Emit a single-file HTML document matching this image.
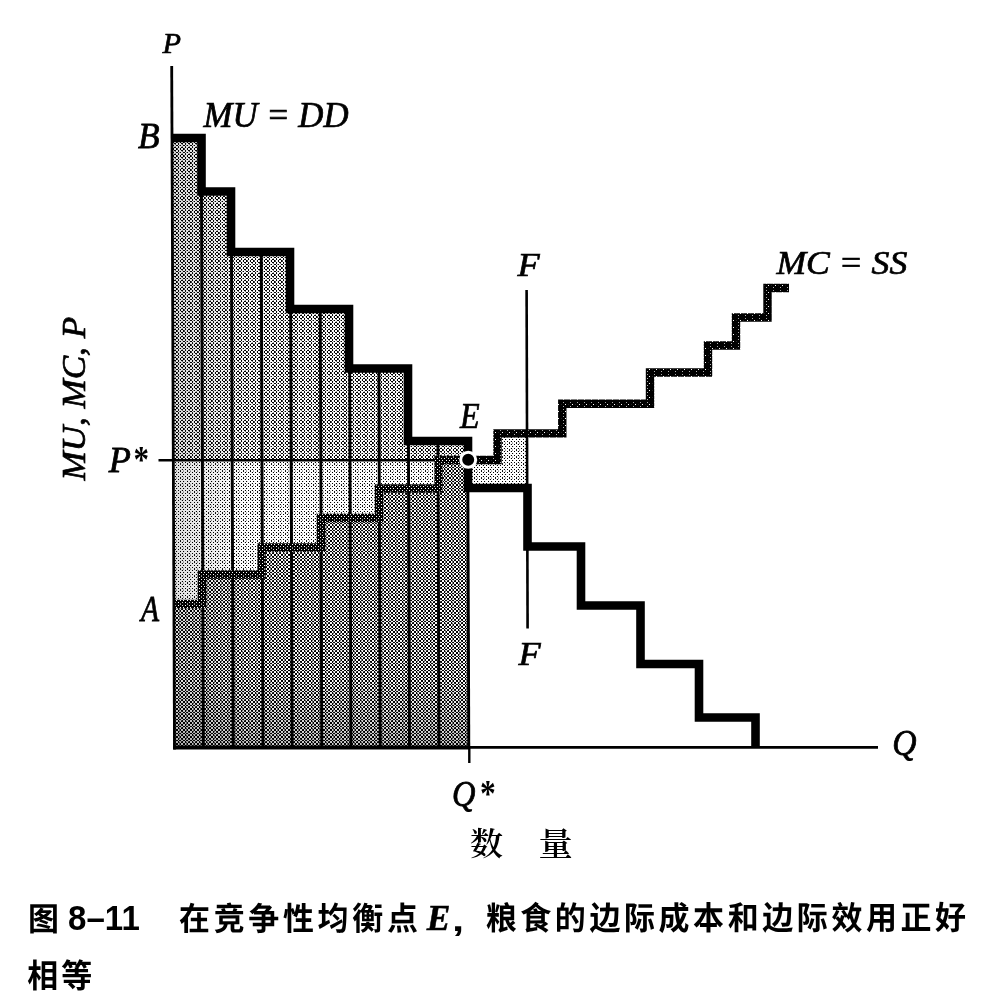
<!DOCTYPE html>
<html lang="zh"><head><meta charset="utf-8"><title>图 8-11</title>
<style>
html,body{margin:0;padding:0;background:#fff}
body{width:1000px;height:997px;position:relative;overflow:hidden}
svg{position:absolute;left:0;top:0;display:block}
text{fill:#000}
.i{font-family:"Liberation Serif","Noto Serif CJK SC",serif;font-style:italic;font-size:33px;stroke:#000;stroke-width:.7px}
.a{font-family:"Liberation Serif","Noto Serif CJK SC",serif;font-weight:700;font-size:33px}
.c{font-family:"Liberation Serif","Noto Serif CJK SC",serif;font-size:33px;font-weight:600}
.cap{font-family:"Liberation Sans","Noto Sans CJK SC",sans-serif;font-weight:700}
.num{font-family:"Liberation Sans","Noto Sans CJK SC",sans-serif;font-weight:700;font-size:30px}
.be{font-family:"Liberation Serif",serif;font-style:italic;font-weight:700;font-size:33px;stroke:#000;stroke-width:.5px}
</style></head><body>
<svg width="1000" height="997" viewBox="0 0 1000 997">
<defs><pattern id="pt" width="7" height="7" patternUnits="userSpaceOnUse"><rect width="7" height="7" fill="#ffffff"/><path d="M0 0h1v1h-1zM3 0h1v1h-1zM6 0h1v1h-1zM1 1h1v1h-1zM5 1h1v1h-1zM1 2h1v1h-1zM5 2h1v1h-1zM0 3h1v1h-1zM3 3h1v1h-1zM6 3h1v1h-1zM1 5h1v1h-1zM2 5h1v1h-1zM5 5h1v1h-1z" fill="#000000" shape-rendering="crispEdges"/><path d="M3 4h1v1h-1z" fill="#0f0f0f" shape-rendering="crispEdges"/><path d="M3 6h1v1h-1z" fill="#1e1e1e" shape-rendering="crispEdges"/><path d="M2 2h1v1h-1z" fill="#3c3c3c" shape-rendering="crispEdges"/><path d="M2 1h1v1h-1z" fill="#4b4b4b" shape-rendering="crispEdges"/><path d="M0 4h1v1h-1z" fill="#696969" shape-rendering="crispEdges"/><path d="M4 5h1v1h-1zM0 6h1v1h-1z" fill="#969696" shape-rendering="crispEdges"/><path d="M6 4h1v1h-1zM6 6h1v1h-1z" fill="#e1e1e1" shape-rendering="crispEdges"/><path d="M4 0h1v1h-1zM4 1h1v1h-1zM4 2h1v1h-1zM4 3h1v1h-1z" fill="#f0f0f0" shape-rendering="crispEdges"/></pattern><pattern id="pm" width="7" height="7" patternUnits="userSpaceOnUse"><rect width="7" height="7" fill="#ffffff"/><path d="M0 0h1v1h-1zM3 0h1v1h-1zM0 3h1v1h-1zM3 3h1v1h-1zM1 5h1v1h-1zM5 5h1v1h-1z" fill="#000000" shape-rendering="crispEdges"/><path d="M5 2h1v1h-1z" fill="#0f0f0f" shape-rendering="crispEdges"/><path d="M5 1h1v1h-1z" fill="#1e1e1e" shape-rendering="crispEdges"/><path d="M1 2h1v1h-1z" fill="#969696" shape-rendering="crispEdges"/><path d="M1 1h1v1h-1z" fill="#b4b4b4" shape-rendering="crispEdges"/><path d="M6 0h1v1h-1zM6 3h1v1h-1zM2 5h1v1h-1z" fill="#e1e1e1" shape-rendering="crispEdges"/></pattern><pattern id="pb" width="7" height="7" patternUnits="userSpaceOnUse"><rect width="7" height="7" fill="#000000"/><path d="M0 4h1v1h-1zM4 5h1v1h-1zM0 6h1v1h-1z" fill="#0f0f0f" shape-rendering="crispEdges"/><path d="M6 4h1v1h-1z" fill="#3c3c3c" shape-rendering="crispEdges"/><path d="M6 6h1v1h-1z" fill="#4b4b4b" shape-rendering="crispEdges"/><path d="M4 0h1v1h-1z" fill="#5a5a5a" shape-rendering="crispEdges"/><path d="M4 3h1v1h-1z" fill="#696969" shape-rendering="crispEdges"/><path d="M4 1h1v1h-1zM4 2h1v1h-1z" fill="#787878" shape-rendering="crispEdges"/><path d="M4 4h1v1h-1zM4 6h1v1h-1z" fill="#d2d2d2" shape-rendering="crispEdges"/><path d="M5 4h1v1h-1zM5 6h1v1h-1z" fill="#e1e1e1" shape-rendering="crispEdges"/><path d="M1 4h1v1h-1zM2 4h1v1h-1zM1 6h1v1h-1zM2 6h1v1h-1z" fill="#f0f0f0" shape-rendering="crispEdges"/><path d="M1 0h1v1h-1zM2 0h1v1h-1zM5 0h1v1h-1zM0 1h1v1h-1zM3 1h1v1h-1zM6 1h1v1h-1zM0 2h1v1h-1zM3 2h1v1h-1zM6 2h1v1h-1zM1 3h1v1h-1zM2 3h1v1h-1zM5 3h1v1h-1zM0 5h1v1h-1zM3 5h1v1h-1zM6 5h1v1h-1z" fill="#ffffff" shape-rendering="crispEdges"/></pattern><pattern id="pl" width="7" height="7" patternUnits="userSpaceOnUse"><rect width="7" height="7" fill="#000000"/><path d="M1 5h1v1h-1z" fill="#1e1e1e" shape-rendering="crispEdges"/><path d="M3 3h1v1h-1z" fill="#a5a5a5" shape-rendering="crispEdges"/><path d="M3 0h1v1h-1z" fill="#b4b4b4" shape-rendering="crispEdges"/><path d="M5 5h1v1h-1z" fill="#ffffff" shape-rendering="crispEdges"/></pattern><pattern id="pk" width="7" height="7" patternUnits="userSpaceOnUse"><rect width="7" height="7" fill="#000000"/><path d="M1 1h1v1h-1zM1 2h1v1h-1z" fill="#0f0f0f" shape-rendering="crispEdges"/><path d="M5 1h1v1h-1z" fill="#787878" shape-rendering="crispEdges"/><path d="M5 2h1v1h-1z" fill="#969696" shape-rendering="crispEdges"/><path d="M0 0h1v1h-1zM0 3h1v1h-1z" fill="#d2d2d2" shape-rendering="crispEdges"/><path d="M3 0h1v1h-1zM3 3h1v1h-1zM1 5h1v1h-1zM5 5h1v1h-1z" fill="#ffffff" shape-rendering="crispEdges"/></pattern><linearGradient id="gl" gradientUnits="userSpaceOnUse" x1="173" y1="0" x2="248" y2="0"><stop offset="0" stop-color="#000" stop-opacity=".13"/><stop offset="1" stop-color="#000" stop-opacity="0"/></linearGradient><linearGradient id="gb" gradientUnits="userSpaceOnUse" x1="0" y1="676" x2="0" y2="748"><stop offset="0" stop-color="#000" stop-opacity="0"/><stop offset="1" stop-color="#000" stop-opacity=".22"/></linearGradient></defs>
<polygon points="173,138 201.5,138 201.5,191.5 231,191.5 231,252 290,252 290,309 349,309 349,368.5 408,368.5 408,441 468,441 468,460.3 173,460.3" fill="url(#pt)"/>
<polygon points="173,460.3 438.5,460.3 438.5,488.5 379,488.5 379,518 321,518 321,547.5 261.5,547.5 261.5,574.5 202,574.5 202,604 173,604" fill="url(#pm)"/>
<polygon points="173,604 202,604 202,574.5 261.5,574.5 261.5,547.5 321,547.5 321,518 379,518 379,488.5 438.5,488.5 438.5,460 468,460 468,748 173,748" fill="url(#pb)"/>
<polygon points="468,460 497.5,460 497.5,433.4 527.5,433.4 527.5,488 468,488" fill="url(#pm)"/>
<clipPath id="cs"><polygon points="173,138 201.5,138 201.5,191.5 231,191.5 231,252 290,252 290,309 349,309 349,368.5 408,368.5 408,441 468,441 468,460.3 173,460.3"/><polygon points="173,460.3 438.5,460.3 438.5,488.5 379,488.5 379,518 321,518 321,547.5 261.5,547.5 261.5,574.5 202,574.5 202,604 173,604"/><polygon points="173,604 202,604 202,574.5 261.5,574.5 261.5,547.5 321,547.5 321,518 379,518 379,488.5 438.5,488.5 438.5,460 468,460 468,748 173,748"/></clipPath>
<clipPath id="cb"><polygon points="173,604 202,604 202,574.5 261.5,574.5 261.5,547.5 321,547.5 321,518 379,518 379,488.5 438.5,488.5 438.5,460 468,460 468,748 173,748"/></clipPath>
<rect x="173" y="134" width="75" height="614" fill="url(#gl)" clip-path="url(#cs)"/>
<rect x="173" y="676" width="295" height="72" fill="url(#gb)" clip-path="url(#cb)"/>
<line x1="201.27" y1="138" x2="203.40" y2="748" stroke="#000" stroke-width="2.9"/>
<line x1="231.47" y1="252" x2="233.20" y2="748" stroke="#000" stroke-width="2.9"/>
<line x1="261.27" y1="252" x2="263.00" y2="748" stroke="#000" stroke-width="2.9"/>
<line x1="290.67" y1="309" x2="292.20" y2="748" stroke="#000" stroke-width="2.9"/>
<line x1="320.27" y1="309" x2="321.80" y2="748" stroke="#000" stroke-width="2.9"/>
<line x1="349.47" y1="309" x2="351.00" y2="748" stroke="#000" stroke-width="2.9"/>
<line x1="378.88" y1="368.5" x2="380.20" y2="748" stroke="#000" stroke-width="2.9"/>
<line x1="408.18" y1="368.5" x2="409.50" y2="748" stroke="#000" stroke-width="2.9"/>
<line x1="437.93" y1="441" x2="439.00" y2="748" stroke="#000" stroke-width="2.9"/>
<line x1="467.73" y1="441" x2="468.80" y2="748" stroke="#000" stroke-width="2.9"/>
<line x1="158.5" y1="460.3" x2="468" y2="460.3" stroke="#000" stroke-width="2.6"/>
<polyline points="173,604 202,604 202,574.5 261.5,574.5 261.5,547.5 321,547.5 321,518 379,518 379,488.5 438.5,488.5 438.5,460 468,460" fill="none" stroke="url(#pk)" stroke-width="8.4"/>
<polyline points="468,460 497.5,460 497.5,433.4 562.3,433.4 562.3,403.7 650,403.7 650,372.5 708,372.5 708,345.5 736,345.5 736,317.5 767.5,317.5 767.5,288 789,288" fill="none" stroke="url(#pl)" stroke-width="8.4"/>
<line x1="171.7" y1="66" x2="174.5" y2="749.5" stroke="#000" stroke-width="2.8"/>
<line x1="173.2" y1="747.5" x2="469" y2="747.5" stroke="#000" stroke-width="4"/>
<line x1="173.2" y1="747.4" x2="878" y2="747.4" stroke="#000" stroke-width="2.8"/>
<line x1="469.3" y1="747" x2="469.3" y2="763" stroke="#000" stroke-width="2.4"/>
<line x1="526.6" y1="290" x2="527.6" y2="628.5" stroke="#000" stroke-width="2.6"/>
<polyline points="173,138 201.5,138 201.5,191.5 231,191.5 231,252 290,252 290,309 349,309 349,368.5 408,368.5 408,441 468,441 468,488 527.5,488 527.5,546.5 581,546.5 581,605.5 640.5,605.5 640.5,664 699,664 699,717.5 755.5,717.5 755.5,748" fill="none" stroke="#000" stroke-width="8.6"/>
<circle cx="468.2" cy="459.8" r="7.5" fill="#000" stroke="#fff" stroke-width="3"/>
<text class="i" transform="translate(162.50,53.00) scale(0.9203,0.9114)">P</text>
<text class="i" transform="translate(137.90,148.40) scale(1.0713,1.0750)">B</text>
<text class="i" transform="translate(203.50,127.20) scale(1.0533,1.0555)">MU = DD</text>
<text class="i" transform="translate(517.50,275.50) scale(1.0973,1.0474)">F</text>
<text class="i" transform="translate(518.50,665.00) scale(1.0973,1.0203)">F</text>
<text class="i" transform="translate(460.10,428.40) scale(0.9739,1.0555)">E</text>
<text class="i" transform="translate(776.40,273.95) scale(1.0794,1.0505)">MC = SS</text>
<text class="i" transform="translate(108.70,471.90) scale(1.1000,1.1030)">P</text>
<text class="a" transform="translate(133.50,472.20) scale(0.9401,1.1598)">*</text>
<text class="i" transform="translate(141.00,621.00) scale(0.8959,1.0750)">A</text>
<text class="i" transform="translate(892.20,755.30) scale(1.0184,1.1111)">Q</text>
<text class="i" transform="translate(452.10,805.80) scale(0.9828,1.1043)">Q</text>
<text class="a" transform="translate(480.10,806.00) scale(0.9546,1.1598)">*</text>
<text class="i" transform="translate(85.25,480.55) rotate(-90) scale(1.0630,1.0042)">MU, MC, P</text>
<text class="c" transform="translate(470.00,855.00) scale(1.0000,0.9745)">数</text>
<text class="c" transform="translate(538.50,854.60) scale(1.0356,0.9605)">量</text>
<text class="cap" font-size="31" transform="rotate(-0.08 179 930) translate(0,930.3) scale(1,1.045)" x="28.1">图</text>
<text class="num" transform="translate(68.10,930.00) scale(1.1017,1.1837)">8–11</text>
<text class="cap" font-size="31" transform="rotate(-0.08 179 930) translate(0,930.3) scale(1,1.045)" x="179.0 213.7 248.3 282.9 317.6 352.2 386.9">在竞争性均衡点</text>
<text class="be" transform="translate(426.75,929.62) scale(1.0720,1.0572)">E</text>
<text class="num" transform="translate(452.12,930.85) scale(1.4532,1.0289)">,</text>
<text class="cap" font-size="31" transform="rotate(-0.08 179 930) translate(0,930.3) scale(1,1.045)" x="485.7 520.3 554.8 589.4 624.0 658.5 693.1 727.7 762.3 796.8 831.4 866.0 900.5 935.1">粮食的边际成本和边际效用正好</text>
<text class="cap" font-size="31" transform="translate(0,986.6) scale(1,1.045)" x="27.2 61.3">相等</text>
</svg>
</body></html>
